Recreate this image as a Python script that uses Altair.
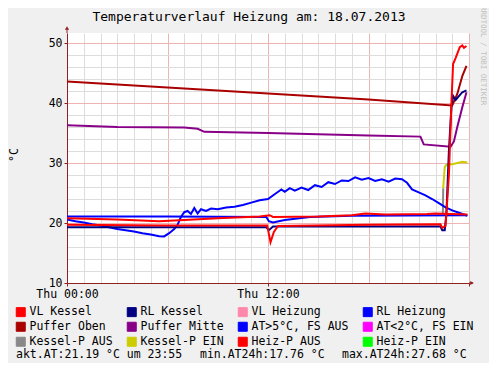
import altair as alt
import pandas as pd

FONT = "DejaVu Sans Mono"

# ---- legend categories and colours ----
categories = ["VL Kessel", "RL Kessel", "VL Heizung", "RL Heizung",
              "Puffer Oben", "Puffer Mitte", "AT>5°C, FS AUS", "AT<2°C, FS EIN",
              "Kessel-P AUS", "Kessel-P EIN", "Heiz-P AUS", "Heiz-P EIN"]
colors = ["#ff0000", "#000080", "#ff88aa", "#0000ff",
          "#aa0000", "#880088", "#0000ff", "#ff00ff",
          "#888888", "#cccc00", "#ff0000", "#00ff00"]

# ---- series (hours since Thu 00:00, °C) ----
puffer_oben_t = [0, 6, 12, 18, 23.0, 23.3, 23.6, 23.85]
puffer_oben_v = [43.6, 42.6, 41.6, 40.6, 39.6, 41.5, 44.5, 46.2]

puffer_mitte_t = [0, 3, 7, 7.8, 8.2, 12, 18, 21.1, 21.3, 22.9, 23.1, 23.3, 23.6, 23.85]
puffer_mitte_v = [36.3, 36.0, 35.9, 35.7, 35.2, 35.0, 34.6, 34.4, 33.1, 32.7, 33.6, 36.0, 39.3, 41.8]

rl_kessel_t = [0, 6, 11.9, 12.05, 12.3, 18, 22.3, 22.4, 22.55, 22.65, 22.8, 22.95, 23.05, 23.2, 23.6, 23.85]
rl_kessel_v = [19.3, 19.3, 19.3, 18.8, 19.4, 19.4, 19.4, 18.8, 18.8, 21.5, 32.0, 39.3, 41.2, 40.5, 41.8, 42.1]

vl_kessel_t = [0, 6, 11.95, 12.15, 12.35, 12.6, 18, 22.3, 22.4, 22.6, 22.8, 22.95, 23.05, 23.2, 23.45, 23.6, 23.7, 23.85]
vl_kessel_v = [19.7, 19.6, 19.6, 16.8, 18.5, 19.5, 19.7, 19.8, 19.2, 19.5, 28.0, 40.0, 46.5, 47.5, 49.3, 49.6, 49.2, 49.5]

heizp_aus_t = [0, 3, 5.5, 7, 9, 11.5, 12.1, 12.3, 15, 17, 17.8, 19, 21.5, 22, 23.9]
heizp_aus_v = [20.8, 20.6, 20.3, 20.5, 20.8, 21.1, 21.3, 21.0, 21.1, 21.3, 21.6, 21.4, 21.5, 21.6, 21.4]

rl_heizung_t = [0, 6, 11.9, 12.05, 12.3, 13, 14.5, 17, 23.9]
rl_heizung_v = [21.1, 21.1, 21.0, 20.3, 20.1, 20.5, 21.0, 21.2, 21.3]

at_t = [0, 0.5, 1, 1.5, 2, 2.5, 3, 3.5, 4, 4.5, 5, 5.5, 5.8, 6.1, 6.4, 6.6, 6.8, 7.0, 7.2, 7.4,
        7.6, 7.8, 8.0, 8.3, 8.6, 9.0, 9.5, 10, 10.5, 11, 11.5, 12, 12.5, 12.8, 13.0, 13.3, 13.6,
        14, 14.4, 14.8, 15.2, 15.6, 16, 16.4, 16.8, 17.2, 17.6, 18, 18.4, 18.8, 19.2, 19.6, 20.0,
        20.3, 20.6, 21.0, 21.4, 21.8, 22.2, 22.6, 23.0, 23.4, 23.9]
at_v = [20.6, 20.3, 20.1, 19.8, 19.6, 19.3, 19.0, 18.8, 18.6, 18.3, 18.1, 17.8, 17.76, 18.3, 19.0,
        19.7, 21.0, 21.8, 22.0, 21.5, 22.5, 21.6, 22.3, 22.0, 22.4, 22.3, 22.6, 22.7, 23.0, 23.4,
        23.8, 24.0, 25.0, 25.6, 25.2, 25.8, 25.4, 25.9, 25.5, 26.3, 26.0, 26.8, 26.5, 27.1, 27.0,
        27.6, 27.2, 27.5, 27.0, 27.3, 26.9, 27.4, 27.3, 26.7, 25.6, 25.1, 24.6, 24.0, 23.3, 22.6,
        22.1, 21.7, 21.2]

kessel_aus_t = [22.44, 22.46]
kessel_aus_v = [21.6, 25.8]

kessel_ein_t = [22.46, 22.55, 22.65, 23.0, 23.3, 23.6, 23.9]
kessel_ein_v = [25.8, 29.3, 29.7, 29.8, 30.0, 30.2, 30.1]

series = [
    ("Kessel-P AUS", kessel_aus_t, kessel_aus_v),
    ("Kessel-P EIN", kessel_ein_t, kessel_ein_v),
    ("AT>5°C, FS AUS", at_t, at_v),
    ("RL Heizung", rl_heizung_t, rl_heizung_v),
    ("Puffer Mitte", puffer_mitte_t, puffer_mitte_v),
    ("Puffer Oben", puffer_oben_t, puffer_oben_v),
    ("RL Kessel", rl_kessel_t, rl_kessel_v),
    ("VL Kessel", vl_kessel_t, vl_kessel_v),
    ("Heiz-P AUS", heizp_aus_t, heizp_aus_v),
]

rows = []
for name, ts, vs in series:
    for t, v in zip(ts, vs):
        rows.append({"series": name, "t": t, "v": v})
df = pd.DataFrame(rows)
legend_df = pd.DataFrame({"series": categories})

title_text = "Temperaturverlauf Heizung am: 18.07.2013"
y_title = "°C"
side_text = "RRDTOOL / TOBI OETIKER"
footer_parts = ["akt.AT:21.19 °C um 23:55", "min.AT24h:17.76 °C", "max.AT24h:27.68 °C"]
footer_x = [-51, 133, 275]

x_ticks = list(range(0, 25))
y_ticks = list(range(10, 52, 2))

GRID_MAJOR = "#eeb4b4"
GRID_MINOR = "#dddddd"
AXIS_COLOR = "#902020"

x_enc = alt.X("t:Q", scale=alt.Scale(domain=[0, 24], nice=False, zero=False),
              axis=alt.Axis(values=x_ticks, title=None,
                            labelExpr="datum.value == 0 ? 'Thu 00:00' : (datum.value == 12 ? 'Thu 12:00' : '')",
                            gridColor={"condition": {"test": "datum.value % 6 == 0", "value": GRID_MAJOR},
                                       "value": GRID_MINOR},
                            tickColor={"condition": {"test": "datum.value % 12 == 0", "value": AXIS_COLOR},
                                       "value": "transparent"},
                            tickSize=3, labelPadding=2, labelFlush=False, labelOverlap=False))
y_enc = alt.Y("v:Q", scale=alt.Scale(domain=[10, 51.67], nice=False, zero=False),
              axis=alt.Axis(values=y_ticks, title=None,
                            labelExpr="datum.value % 10 == 0 ? datum.label : ''",
                            gridColor={"condition": {"test": "datum.value % 10 == 0", "value": GRID_MAJOR},
                                       "value": GRID_MINOR},
                            tickColor={"condition": {"test": "datum.value % 10 == 0", "value": AXIS_COLOR},
                                       "value": "transparent"},
                            tickSize=3, labelPadding=2, labelOverlap=False))

legend = alt.Legend(
    title=None, orient="none", legendX=-52, legendY=273, columns=4, direction="horizontal",
    symbolType="square", symbolSize=81, symbolStrokeColor="black", symbolStrokeWidth=1,
    symbolOpacity=1,
    labelFont=FONT, labelFontSize=11.5, labelColor="black", labelOffset=3,
    rowPadding=1, columnPadding=12, padding=0, symbolOffset=0,
)
cscale = alt.Scale(domain=categories, range=colors)

# invisible squares that only provide the filled-square legend
legend_layer = alt.Chart(legend_df).mark_square(filled=True, opacity=0, size=1).encode(
    x=alt.value(0), y=alt.value(0),
    fill=alt.Fill("series:N", scale=cscale, legend=legend),
)

layers = []
for name, _, _ in series:
    layers.append(
        alt.Chart(df).transform_filter(alt.datum.series == name)
        .mark_line(strokeWidth=2, clip=True)
        .encode(x=x_enc, y=y_enc, color=alt.Color("series:N", scale=cscale, legend=None))
    )

one = pd.DataFrame({"k": [0]})
title = alt.Chart(one).mark_text(text=title_text, font=FONT, fontSize=13, align="center",
                                 baseline="middle", color="black").encode(
    x=alt.value(182), y=alt.value(-16))
ytitle = alt.Chart(one).mark_text(text=y_title, font=FONT, fontSize=11.5, align="center",
                                  baseline="middle", angle=270, color="black").encode(
    x=alt.value(-52), y=alt.value(122))
side = alt.Chart(one).mark_text(text=side_text, font=FONT, fontSize=7.5, align="left",
                                baseline="middle", angle=90, color="#c0c0c0").encode(
    x=alt.value(416), y=alt.value(-27))
footers = [
    alt.Chart(one).mark_text(text=txt, font=FONT, fontSize=11.5, align="left",
                             baseline="middle", color="black").encode(
        x=alt.value(fx), y=alt.value(321.5))
    for txt, fx in zip(footer_parts, footer_x)
]
xext = alt.Chart(one).mark_rule(color=AXIS_COLOR, strokeWidth=1).encode(
    x=alt.value(402), x2=alt.value(406), y=alt.value(250))
yext = alt.Chart(one).mark_rule(color=AXIS_COLOR, strokeWidth=1).encode(
    x=alt.value(0), y=alt.value(-5), y2=alt.value(0))
xarrow = alt.Chart(one).mark_point(shape="triangle-right", filled=True, size=18,
                                   color=AXIS_COLOR, opacity=1).encode(
    x=alt.value(405), y=alt.value(250))
yarrow = alt.Chart(one).mark_point(shape="triangle-up", filled=True, size=18,
                                   color=AXIS_COLOR, opacity=1).encode(
    x=alt.value(0), y=alt.value(-5))

chart = alt.layer(legend_layer, *layers, xext, yext, xarrow, yarrow, title, ytitle, side, *footers).properties(
    width=402, height=250, autosize="none",
    padding={"left": 59, "top": 25, "right": 20, "bottom": 80},
    background="#f0f0f0",
).configure_view(stroke=None, fill="white").configure_axis(
    labelFont=FONT, labelFontSize=11.5, labelColor="black",
    domainColor=AXIS_COLOR, domainWidth=1, gridWidth=1,
)

chart.save("out.html", embed_options={"renderer": "svg", "actions": False})
